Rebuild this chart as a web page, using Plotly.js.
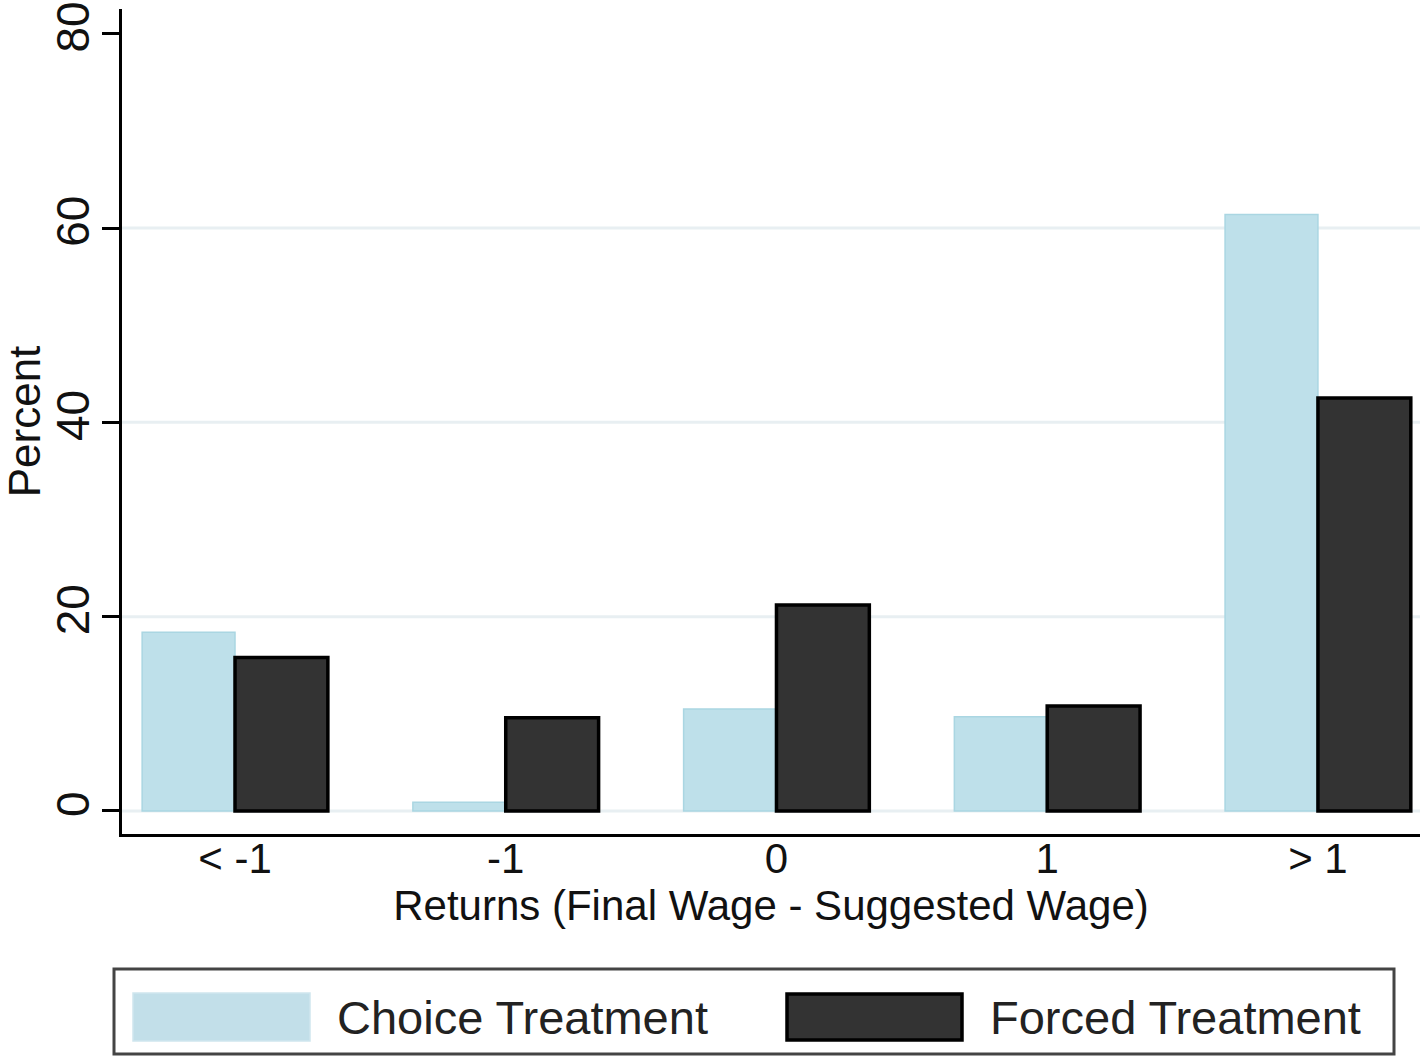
<!DOCTYPE html>
<html>
<head>
<meta charset="utf-8">
<script src="https://cdn.plot.ly/plotly-3.0.1.min.js"></script>
<style>
  html, body { margin: 0; padding: 0; background: #ffffff; }
  #chart { width: 1420px; height: 1057px; }
</style>
</head>
<body>
<div id="chart"></div>
<script>
// Distribution of returns by treatment (percent of observations)
const categories = ["< -1", "-1", "0", "1", "> 1"];
const choiceValues = [18.4, 0.9, 10.5, 9.7, 61.4];
const forcedValues = [15.8, 9.6, 21.2, 10.8, 42.5];
const seriesNames = ["Choice Treatment", "Forced Treatment"];
const yTickVals = [0, 20, 40, 60, 80];
const gridVals = [0, 20, 40, 60];

const W = 1420, H = 1057;
const M = { l: 122, r: 0, t: 9, b: 223 };
const plotW = W - M.l - M.r, plotH = H - M.t - M.b;
// pixel -> paper coordinates
const px = x => (x - M.l) / plotW;
const py = y => (H - M.b - y) / plotH;

const FONT = '"Liberation Sans Narrow", "Arial Narrow", "Liberation Sans", Arial, sans-serif';
const TXT = '#111111';

const xIdx = categories.map((_, i) => i);

const traces = [
  {
    type: 'bar', name: seriesNames[0], x: xIdx, y: choiceValues,
    marker: { color: '#bee0ea', line: { color: '#aad6e2', width: 1.5 } },
    showlegend: false, hoverinfo: 'skip'
  },
  {
    type: 'bar', name: seriesNames[1], x: xIdx, y: forcedValues,
    marker: { color: '#333333', line: { color: '#000000', width: 3.5 } },
    showlegend: false, hoverinfo: 'skip'
  }
];

const shapes = gridVals.map(v => ({
  type: 'line', layer: 'below', xref: 'paper', yref: 'y',
  x0: 0, x1: 1, y0: v, y1: v,
  line: { color: '#e8eff2', width: 3 }
}));

// legend frame and keys
shapes.push({
  type: 'rect', xref: 'paper', yref: 'paper',
  x0: px(114), x1: px(1394), y0: py(969), y1: py(1054),
  line: { color: '#444444', width: 3 }, fillcolor: 'rgba(0,0,0,0)'
});
shapes.push({
  type: 'rect', xref: 'paper', yref: 'paper',
  x0: px(133), x1: px(310), y0: py(993), y1: py(1041),
  line: { color: '#cfe6ee', width: 1.5 }, fillcolor: '#c2dfe9'
});
shapes.push({
  type: 'rect', xref: 'paper', yref: 'paper',
  x0: px(787), x1: px(962), y0: py(994), y1: py(1040),
  line: { color: '#000000', width: 3.5 }, fillcolor: '#333333'
});

const annotations = [
  {
    xref: 'paper', yref: 'paper', x: px(335), y: py(1017),
    xanchor: 'left', yanchor: 'middle', showarrow: false,
    text: seriesNames[0], font: { family: FONT, size: 47, color: '#222222' }
  },
  {
    xref: 'paper', yref: 'paper', x: px(988), y: py(1017),
    xanchor: 'left', yanchor: 'middle', showarrow: false,
    text: seriesNames[1], font: { family: FONT, size: 47, color: '#222222' }
  }
];

const layout = {
  width: W, height: H,
  margin: M,
  paper_bgcolor: '#ffffff', plot_bgcolor: '#ffffff',
  barmode: 'group', bargap: 0.314, bargroupgap: 0,
  showlegend: false,
  font: { family: FONT, color: TXT },
  xaxis: {
    range: [-0.4174, 4.377],
    tickmode: 'array', tickvals: xIdx, ticktext: categories,
    ticks: '', showgrid: false, zeroline: false,
    showline: true, linecolor: '#000000', linewidth: 3,
    ticklabelstandoff: -14,
    tickfont: { family: FONT, size: 42, color: TXT },
    title: { text: 'Returns (Final Wage - Suggested Wage)', font: { family: FONT, size: 42, color: TXT }, standoff: 6 }
  },
  yaxis: {
    range: [-2.37, 82.55],
    tickmode: 'array', tickvals: yTickVals,
    ticks: 'outside', ticklen: 17, tickwidth: 3, tickcolor: '#000000',
    tickangle: -90,
    ticklabelstandoff: -5,
    showgrid: false, zeroline: false,
    showline: true, linecolor: '#000000', linewidth: 3,
    tickfont: { family: FONT, size: 46, color: TXT },
    title: { text: 'Percent', font: { family: FONT, size: 44, color: TXT }, standoff: 4 }
  },
  shapes: shapes,
  annotations: annotations
};

Plotly.newPlot('chart', traces, layout, { staticPlot: true, displayModeBar: false });
</script>
</body>
</html>
